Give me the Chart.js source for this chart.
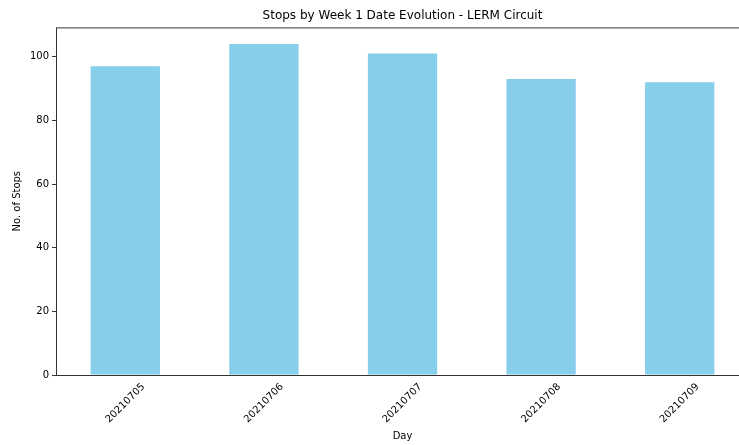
<!DOCTYPE html>
<html>
<head>
<meta charset="utf-8">
<script src="https://cdn.jsdelivr.net/npm/chart.js@4"></script>
<style>
  html, body { margin: 0; padding: 0; overflow: hidden; background: #fff; }
  #wrap { width: 760px; height: 445px; }
</style>
</head>
<body>
<div id="wrap"><canvas id="myChart" width="760" height="445"></canvas></div>
<script>
  // data
  var days = ["20210705", "20210706", "20210707", "20210708", "20210709"];
  var stops = [97, 104, 101, 93, 92];
  var yTicks = [0, 20, 40, 60, 80, 100];

  var font = "'DejaVu Sans', sans-serif";

  // frame round the plot area (matplotlib spines)
  var spines = {
    id: 'spines',
    afterDraw: function (chart) {
      var a = chart.chartArea;
      var c = chart.ctx;
      c.save();
      c.strokeStyle = '#333';
      c.lineWidth = 1;
      c.strokeRect(a.left + 0.5, a.top + 0.5, a.right - a.left, a.bottom - a.top);
      c.restore();
    }
  };

  var ctx = document.getElementById('myChart').getContext('2d');
  var myChart = new Chart(ctx, {
    type: 'bar',
    data: {
      labels: days,
      datasets: [{
        label: 'No. of Stops',
        data: stops,
        backgroundColor: '#87CEEB',
        barPercentage: 0.5,
        categoryPercentage: 1.0
      }]
    },
    options: {
      responsive: false,
      animation: false,
      layout: { padding: { right: 11 } },
      plugins: {
        legend: { display: false },
        tooltip: { enabled: false },
        title: {
          display: true,
          fullSize: false,
          text: 'Stops by Week 1 Date Evolution - LERM Circuit',
          color: '#000',
          font: { family: font, size: 12, weight: 'normal' },
          padding: { top: 9, bottom: 4 }
        }
      },
      scales: {
        x: {
          grid: { display: false, drawOnChartArea: false, tickLength: 4 },
          border: { display: false },
          ticks: {
            color: '#000',
            font: { family: font, size: 10 },
            maxRotation: 45,
            minRotation: 45,
            labelOffset: 18,
            padding: 2
          },
          title: {
            display: true,
            text: 'Day',
            color: '#000',
            font: { family: font, size: 10 },
            padding: { top: 0, bottom: 3 }
          },
          afterFit: function (scale) { scale.height = 70; }
        },
        y: {
          min: 0,
          max: 109.2,
          grid: { display: true, drawOnChartArea: false, tickLength: 4, color: '#333' },
          border: { display: false },
          afterBuildTicks: function (scale) {
            scale.ticks = yTicks.map(function (v) { return { value: v }; });
          },
          ticks: {
            color: '#000',
            font: { family: font, size: 10 },
            padding: 3
          },
          title: {
            display: true,
            text: 'No. of Stops',
            color: '#000',
            font: { family: font, size: 10 },
            padding: { top: 11, bottom: 0 }
          },
          afterFit: function (scale) { scale.width = 56; }
        }
      }
    },
    plugins: [spines]
  });
</script>
</body>
</html>
